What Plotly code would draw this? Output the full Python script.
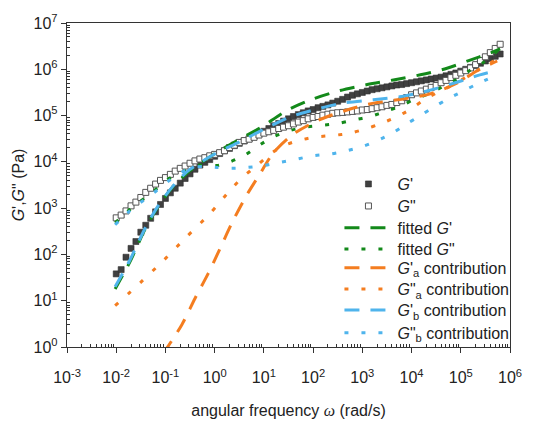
import plotly.graph_objects as go

# ---------------- data ----------------
omega = [0.01, 0.0126, 0.0158, 0.02, 0.0251, 0.0316, 0.0398, 0.0501, 0.0631, 0.0794,
         0.1, 0.126, 0.158, 0.2, 0.251, 0.316, 0.398, 0.501, 0.631, 0.794,
         1, 1.26, 1.58, 2.0, 2.51, 3.16, 3.98, 5.01, 6.31, 7.94,
         10, 12.6, 15.8, 20, 25.1, 31.6, 39.8, 50.1, 63.1, 79.4,
         100, 126, 158, 200, 251, 316, 398, 501, 631, 794,
         1e3, 1.26e3, 1.58e3, 2e3, 2.51e3, 3.16e3, 3.98e3, 5.01e3, 6.31e3, 7.94e3,
         1e4, 1.26e4, 1.58e4, 2e4, 2.51e4, 3.16e4, 3.98e4, 5.01e4, 6.31e4, 7.94e4,
         1e5, 1.26e5, 1.58e5, 2e5, 2.51e5, 3.16e5, 3.98e5, 5.01e5, 6.31e5]

G_storage = [38, 47, 87, 135, 190, 302, 427, 603, 832, 1200,
             1620, 2140, 2690, 3470, 4370, 5500, 6920, 8510, 9770, 11200,
             13200, 15100, 17400, 19500, 22400, 25100, 28200, 31600, 36300, 40700,
             45700, 52500, 60300, 67600, 75900, 85100, 95500, 1.05e5, 1.15e5, 1.26e5,
             1.35e5, 1.48e5, 1.58e5, 1.70e5, 1.86e5, 2.04e5, 2.24e5, 2.51e5, 2.75e5, 2.95e5,
             3.16e5, 3.39e5, 3.63e5, 3.80e5, 3.98e5, 4.17e5, 4.37e5, 4.57e5, 4.68e5, 4.90e5,
             5.13e5, 5.37e5, 5.62e5, 5.89e5, 6.17e5, 6.46e5, 6.76e5, 7.24e5, 7.76e5, 8.32e5,
             9.12e5, 1.00e6, 1.10e6, 1.20e6, 1.35e6, 1.51e6, 1.70e6, 1.91e6, 2.14e6]

G_loss = [617, 708, 871, 1120, 1350, 1700, 2190, 2690, 3310, 3980,
          4570, 5370, 6310, 7240, 8130, 9330, 10500, 11500, 12300, 13500,
          14500, 15800, 17400, 20400, 22900, 26300, 28800, 30900, 33900, 38000,
          41700, 44700, 47900, 52500, 56200, 60300, 66100, 72400, 77600, 85100,
          91200, 95500, 1.02e5, 1.07e5, 1.12e5, 1.15e5, 1.17e5, 1.20e5, 1.23e5, 1.26e5,
          1.32e5, 1.35e5, 1.41e5, 1.48e5, 1.55e5, 1.66e5, 1.74e5, 1.91e5, 2.09e5, 2.45e5,
          2.82e5, 3.09e5, 3.39e5, 3.72e5, 4.07e5, 4.47e5, 5.13e5, 5.75e5, 6.61e5, 7.41e5,
          8.32e5, 9.33e5, 1.07e6, 1.26e6, 1.55e6, 1.86e6, 2.29e6, 2.82e6, 3.47e6]

fitG1_w = [0.0095, 0.019, 0.038, 0.071, 0.141, 0.316, 0.562, 1.0, 2.75, 8.3, 29.5, 100,
           355, 1260, 4270, 15100, 52500, 1.55e5, 3.98e5, 6.31e5]
fitG1 = [18, 69, 339, 1070, 2880, 6460, 10000, 15100, 28200, 53700, 1.29e5, 2.29e5,
         3.47e5, 4.68e5, 5.89e5, 7.59e5, 1.05e6, 1.58e6, 2.24e6, 2.75e6]

fitG2_w = [0.0095, 0.0166, 0.0302, 0.0562, 0.107, 0.229, 0.437, 0.794, 1.12, 2.04, 4.17,
           7.59, 15.5, 32.4, 69.2, 151, 324, 646, 1450, 3160, 6170, 11700, 24000, 43700,
           85100, 1.55e5, 3.02e5, 6.03e5]
fitG2 = [479, 832, 1380, 2290, 4070, 6170, 8320, 8510, 8320, 10000, 14100,
         21900, 34700, 46800, 56200, 61700, 67600, 79400, 95500, 1.26e5, 1.62e5, 2.29e5,
         3.02e5, 4.27e5, 6.17e5, 9.55e5, 1.45e6, 2.69e6]

Ga1_w = [0.089, 0.214, 0.398, 0.741, 1.29, 2.34, 4.47, 8.32, 15.5, 39.8, 129, 490, 1700,
         6760, 24000, 83200, 2.24e5, 5.50e5]
Ga1 = [0.71, 3.0, 11.2, 38.9, 135, 525, 1910, 5500, 15500, 39800, 79400, 1.32e5, 1.86e5,
       2.29e5, 2.95e5, 5.01e5, 9.55e5, 1.51e6]

Ga2_w = [0.0095, 0.0302, 0.091, 0.269, 0.813, 2.24, 3.80, 7.24, 13.5, 25.1, 55, 120, 257,
         562, 1150, 2290, 4680, 9330, 17400, 32400, 69200, 1.32e5, 2.82e5, 5.37e5]
Ga2 = [7.8, 24, 74, 240, 776, 2690, 4790, 8320, 14800, 22400, 29500, 34700, 37200,
       41700, 51300, 66100, 91200, 1.35e5, 2.14e5, 3.09e5, 4.57e5, 6.92e5, 1.10e6, 1.66e6]

Gb1_w = [0.0095, 0.019, 0.038, 0.071, 0.141, 0.275, 0.501, 1.0, 3.31, 9.77, 33.9, 120,
         355, 1660, 6920, 24000, 83200, 2.45e5, 4.68e5]
Gb1 = [20, 76, 355, 1120, 2950, 6170, 9550, 14800, 27500, 50100, 93300, 1.38e5,
       1.82e5, 2.19e5, 2.63e5, 3.55e5, 5.25e5, 7.59e5, 9.12e5]

Gb2_w = [0.0095, 0.0166, 0.0302, 0.0562, 0.107, 0.20, 0.363, 0.631, 1.12, 2.24, 4.79, 10,
         21.4, 46.8, 100, 224, 490, 1000, 2000, 4070, 7410, 14100, 26300, 52500,
         1.07e5, 2.14e5, 4.37e5]
Gb2 = [437, 776, 1290, 2090, 3630, 5750, 7590, 7940, 7590, 7240, 7590, 8320,
       9770, 11500, 13500, 14800, 17400, 21400, 28800, 41700, 63100, 95500, 1.45e5, 2.24e5,
       3.31e5, 4.79e5, 6.76e5]

decades = [1e-3, 1e-2, 1e-1, 1e0, 1e1, 1e2, 1e3, 1e4, 1e5, 1e6]
x_ticktext = ["10<sup>-3</sup>", "10<sup>-2</sup>", "10<sup>-1</sup>", "10<sup>0</sup>",
              "10<sup>1</sup>", "10<sup>2</sup>", "10<sup>3</sup>", "10<sup>4</sup>",
              "10<sup>5</sup>", "10<sup>6</sup>"]
y_tickvals = [1e0, 1e1, 1e2, 1e3, 1e4, 1e5, 1e6, 1e7]
y_ticktext = ["10<sup>0</sup>", "10<sup>1</sup>", "10<sup>2</sup>", "10<sup>3</sup>",
              "10<sup>4</sup>", "10<sup>5</sup>", "10<sup>6</sup>", "10<sup>7</sup>"]

# ---------------- styling ----------------
GREEN = "#13891A"
ORANGE = "#F47D20"
BLUE = "#4FB4EC"
DASH = "15px,11px"
DOT = "4px,13px"
FONT = "Arial, 'Liberation Sans', sans-serif"
INK = "#222222"

x_minor = [m * d for d in decades[:-1] for m in range(2, 10)]
y_minor = [m * d for d in y_tickvals[:-1] for m in range(2, 10)]

# one single-entry legend per trace so the row pitch can match the reference
legend_ids = ["legend", "legend2", "legend3", "legend4",
              "legend5", "legend6", "legend7", "legend8"]
legend_y = [0.503, 0.435, 0.368, 0.302, 0.244, 0.179, 0.114, 0.044]

fig = go.Figure()

fig.add_trace(go.Scatter(x=omega, y=G_storage, mode="markers", name="<i>G</i>'",
                         legend=legend_ids[0],
                         marker=dict(symbol="square", size=6, color="#404040",
                                     line=dict(width=0.6, color="#303030"))))
fig.add_trace(go.Scatter(x=omega, y=G_loss, mode="markers", name="<i>G</i>\"",
                         legend=legend_ids[1],
                         marker=dict(symbol="square", size=6, color="white",
                                     line=dict(width=1, color="#555555"))))


def curve(xs, ys, name, color, dash, leg):
    fig.add_trace(go.Scatter(x=xs, y=ys, mode="lines", name=name, legend=leg,
                             line=dict(color=color, width=3, dash=dash,
                                       shape="spline", smoothing=0.8)))


curve(fitG1_w, fitG1, "fitted <i>G</i>'", GREEN, DASH, legend_ids[2])
curve(fitG2_w, fitG2, "fitted <i>G</i>\"", GREEN, DOT, legend_ids[3])
curve(Ga1_w, Ga1, "<i>G</i>'<sub>a</sub> contribution", ORANGE, DASH, legend_ids[4])
curve(Ga2_w, Ga2, "<i>G</i>\"<sub>a</sub> contribution", ORANGE, DOT, legend_ids[5])
curve(Gb1_w, Gb1, "<i>G</i>'<sub>b</sub> contribution", BLUE, DASH, legend_ids[6])
curve(Gb2_w, Gb2, "<i>G</i>\"<sub>b</sub> contribution", BLUE, DOT, legend_ids[7])

axis_common = dict(
    type="log", showgrid=False, zeroline=False, automargin=False,
    showline=True, linecolor="#333333", linewidth=1.4, mirror=True,
    ticks="outside", ticklen=5, tickwidth=1.2, tickcolor="#333333",
    tickfont=dict(size=16, color=INK, family=FONT),
)

fig.update_xaxes(
    **axis_common, range=[-3, 6], tickmode="array", tickvals=decades, ticktext=x_ticktext,
    ticklabelstandoff=11,
    minor=dict(tickmode="array", tickvals=x_minor, ticks="inside", ticklen=3,
               tickwidth=1, tickcolor="#333333"),
    title=dict(text="angular frequency <span style=\"font-family:'Liberation Serif', serif\"><i>ω</i></span> (rad/s)",
               font=dict(size=16, color=INK, family=FONT), standoff=19),
)
fig.update_yaxes(
    **axis_common, range=[0, 7], tickmode="array", tickvals=y_tickvals, ticktext=y_ticktext,
    minor=dict(tickmode="array", tickvals=y_minor, ticks="inside", ticklen=3,
               tickwidth=1, tickcolor="#333333"),
    title=dict(text="<i>G</i>',<i>G</i>\" (Pa)",
               font=dict(size=16, color=INK, family=FONT), standoff=4),
)

legend_style = dict(x=0.615, xanchor="left", yanchor="middle",
                    bgcolor="rgba(0,0,0,0)", borderwidth=0,
                    font=dict(size=16, color=INK, family=FONT), itemwidth=48)
layout_legends = {lid: dict(legend_style, y=ly) for lid, ly in zip(legend_ids, legend_y)}

# the page body adds an 8px offset; margins are chosen so the plot box
# lands at x 67..510, y 23..347 in the screenshot
fig.update_layout(
    width=547, height=421,
    margin=dict(l=59, r=45, t=15, b=82, autoexpand=False),
    plot_bgcolor="white", paper_bgcolor="white",
    font=dict(family=FONT, size=14, color=INK),
    showlegend=True,
    **layout_legends,
)

fig.write_html("out.html")
